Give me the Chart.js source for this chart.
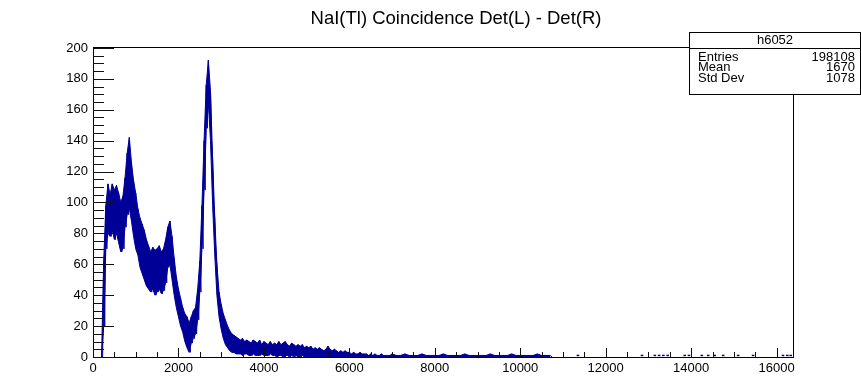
<!DOCTYPE html>
<html><head><meta charset="utf-8">
<script src="https://cdn.jsdelivr.net/npm/chart.js@4.4.1/dist/chart.umd.min.js"></script>
<style>html,body{margin:0;padding:0;background:#fff;}#wrap{width:861px;height:392px;position:relative;}</style>
</head><body><div id="wrap"><canvas id="c" width="861" height="392"></canvas></div>
<script>
const TITLE = "NaI(Tl) Coincidence Det(L) - Det(R)";
const HIST_NAME = "h6052";
const STAT_LABELS = ["Entries", "Mean", "Std Dev"];
const STAT_VALUES = ["198108", "1670", "1078"];
const X_MIN = 0, X_MAX = 16384;
const Y_MIN = 0, Y_MAX = 200.6;
const X_TICKS = [0, 2000, 4000, 6000, 8000, 10000, 12000, 14000, 16000];
const Y_TICKS = [0, 20, 40, 60, 80, 100, 120, 140, 160, 180, 200];

// fine region: bins of 50 channels starting at channel 200 (upper / lower envelope of counts)
const fineStart = 200, fineWidth = 50;
const fineHigh = [
  0, 62, 98, 112, 105, 112, 108, 111, 106, 100,
  104, 116, 132, 142, 126, 114, 106, 96, 90, 86,
  82, 76, 72, 68, 71, 69, 70, 72, 68, 70,
  76, 84, 88, 78, 64, 52, 44, 38, 32, 28,
  26, 22, 26, 30, 32, 44, 62, 98, 140, 176,
  192, 172, 128, 90, 60, 42, 34, 28, 24, 20,
  17, 15, 14, 13, 12, 11, 12, 10, 11, 10,
  9, 11, 10, 9, 11, 8, 10, 9, 8, 10,
  8, 9, 8, 10, 8, 9, 10, 8, 7, 9,
  8, 7, 8, 7, 8, 6, 7, 6, 7, 5,
  6, 5, 6, 5, 4, 5, 7, 5, 4, 5,
  4, 3, 4, 3, 4, 3, 3, 2, 3, 2,
  2, 3, 2, 2, 2, 1, 2, 1, 2, 1,
  1, 2, 1, 1, 1, 1
];
const fineLow = [
  0, 20, 70, 80, 78, 82, 76, 80, 74, 68,
  70, 84, 92, 96, 88, 78, 70, 66, 58, 54,
  50, 46, 44, 42, 44, 40, 42, 44, 41, 43,
  48, 58, 60, 50, 40, 32, 26, 20, 16, 10,
  6, 3, 9, 12, 15, 24, 42, 70, 108, 148,
  164, 140, 98, 66, 40, 26, 18, 12, 8, 6,
  4, 3, 3, 2, 2, 2, 1, 2, 2, 1,
  1, 2, 1, 1, 1, 2, 1, 1, 1, 2,
  1, 1, 0, 1, 1, 0, 1, 1, 0, 1,
  0, 1, 0, 0, 1, 0, 0, 0, 0, 0,
  0, 0, 0, 0, 0, 0, 0, 0, 0, 0,
  0, 0, 0, 0, 0, 0, 0, 0, 0, 0,
  0, 0, 0, 0, 0, 0, 0, 0, 0, 0,
  0, 0, 0, 0, 0, 0
];
// tail region: bins of 100 channels starting at 7000
const tailStart = 7000, tailWidth = 100;
const tailHigh = [
  2, 1, 1, 2, 1, 1, 1, 2, 1, 1,
  1, 1, 2, 1, 1, 1, 1, 2, 1, 1,
  1, 1, 1, 2, 1, 1, 1, 1, 2, 1,
  1, 1, 1, 1, 2, 1, 1, 1
];
const tailLow = [
  0, 0, 0, 0, 0, 0, 0, 0, 0, 0,
  0, 0, 0, 0, 0, 0, 0, 0, 0, 0,
  0, 0, 0, 0, 0, 0, 0, 0, 0, 0,
  0, 0, 0, 0, 0, 0, 0, 0
];
// isolated single counts far out
const sparseChannels = [11350, 12850, 13150, 13250, 13350, 13450, 13850, 13950, 14250, 14400, 14550, 14750, 15100, 15450, 16150, 16250, 16330];
const sparseCounts   = [1, 1, 1, 1, 1, 1, 1, 1, 1, 1, 1, 1, 1, 1, 1, 1, 1];

const LINE_COLOR = '#000099';
const TICK_COLOR = '#111111';
const FONT = '"Liberation Sans", Arial, Helvetica, sans-serif';

const hiPoints = [], loPoints = [], zigPoints = [];
fineHigh.forEach((h, i) => {
  const c = fineStart + i * fineWidth;
  hiPoints.push({x: c, y: h});
  loPoints.push({x: c, y: fineLow[i]});
  zigPoints.push({x: c, y: h});
  zigPoints.push({x: c + fineWidth / 2, y: fineLow[i]});
});
tailHigh.forEach((h, i) => {
  const c = tailStart + i * tailWidth;
  hiPoints.push({x: c, y: h});
  loPoints.push({x: c, y: tailLow[i]});
  zigPoints.push({x: c, y: h});
  zigPoints.push({x: c + tailWidth / 2, y: tailLow[i]});
});
const sparsePoints = sparseChannels.map((c, i) => ({x: c, y: sparseCounts[i]}));

const rootPlugin = {
  id: 'rootDeco',
  afterDraw(chart) {
    const ctx = chart.ctx;
    const a = chart.chartArea;
    const xs = chart.scales.x, ys = chart.scales.y;
    const L = Math.round(a.left), R = Math.round(a.right);
    const T = Math.round(a.top), B = Math.round(a.bottom);
    ctx.save();
    ctx.fillStyle = '#000000';
    // frame
    ctx.fillRect(L, T, R - L + 1, 1);
    ctx.fillRect(L, B, R - L + 1, 1);
    ctx.fillRect(L, T, 1, B - T + 1);
    ctx.fillRect(R, T, 1, B - T + 1);
    // y ticks: major every 20, minor every 5, pointing into the plot
    ctx.fillStyle = TICK_COLOR;
    for (let k = 0; k <= 40; k++) {
      const y = Math.round(ys.getPixelForValue(k * 5));
      ctx.fillRect(L, y, (k % 4 === 0) ? 21 : 11, 1);
    }
    // x ticks: major every 2000, minor every 500
    for (let k = 0; k * 500 <= X_MAX; k++) {
      const x = Math.round(xs.getPixelForValue(k * 500));
      const len = (k % 4 === 0) ? 9 : 5;
      ctx.fillRect(x, B - len, 1, len);
    }
    // title
    ctx.fillStyle = '#000000';
    ctx.font = '18.5px ' + FONT;
    ctx.textAlign = 'center';
    ctx.textBaseline = 'middle';
    ctx.fillText(TITLE, 456, 19);
    // stats box
    ctx.fillStyle = '#fff';
    ctx.fillRect(689, 32, 172, 63);
    ctx.fillStyle = '#000';
    ctx.fillRect(689, 32, 172, 1);
    ctx.fillRect(689, 94, 172, 1);
    ctx.fillRect(689, 32, 1, 63);
    ctx.fillRect(860, 32, 1, 63);
    ctx.fillRect(689, 48, 172, 1);
    ctx.font = '13px ' + FONT;
    ctx.textAlign = 'center';
    ctx.fillText(HIST_NAME, 775, 40.5);
    const rowsY = [57, 67.7, 78.3];
    STAT_LABELS.forEach((lab, i) => {
      ctx.textAlign = 'left';
      ctx.fillText(lab, 698, rowsY[i]);
      ctx.textAlign = 'right';
      ctx.fillText(STAT_VALUES[i], 855, rowsY[i]);
    });
    ctx.restore();
  }
};

new Chart(document.getElementById('c'), {
  type: 'line',
  data: {
    datasets: [
      {data: hiPoints, borderColor: LINE_COLOR, backgroundColor: LINE_COLOR, borderWidth: 1, pointRadius: 0, tension: 0, fill: '+1'},
      {data: loPoints, borderColor: LINE_COLOR, borderWidth: 1, pointRadius: 0, tension: 0, fill: false},
      {data: zigPoints, borderColor: LINE_COLOR, borderWidth: 1, pointRadius: 0, tension: 0, fill: false},
      {type: 'scatter', data: sparsePoints, borderColor: LINE_COLOR, backgroundColor: LINE_COLOR, pointStyle: 'line', pointRadius: 1.3, borderWidth: 1.5}
    ]
  },
  options: {
    responsive: false,
    animation: false,
    devicePixelRatio: 1,
    parsing: false,
    layout: {padding: {left: 0, top: 47, right: 68, bottom: 0}},
    plugins: {legend: {display: false}, title: {display: false}, tooltip: {enabled: false}},
    scales: {
      x: {
        type: 'linear', min: X_MIN, max: X_MAX,
        grid: {display: false, drawTicks: false}, border: {display: false},
        afterFit(s) { s.height = 35; },
        afterBuildTicks(s) { s.ticks = X_TICKS.map(v => ({value: v})); },
        ticks: {font: {family: FONT, size: 13}, color: '#000', padding: 4, maxRotation: 0, autoSkip: false, callback: v => String(v)}
      },
      y: {
        type: 'linear', min: Y_MIN, max: Y_MAX,
        grid: {display: false, drawTicks: false}, border: {display: false},
        afterFit(s) { s.width = 93; },
        afterBuildTicks(s) { s.ticks = Y_TICKS.map(v => ({value: v})); },
        ticks: {font: {family: FONT, size: 13}, color: '#000', padding: 5, autoSkip: false, callback: v => String(v)}
      }
    }
  },
  plugins: [rootPlugin]
});
</script></body></html>
